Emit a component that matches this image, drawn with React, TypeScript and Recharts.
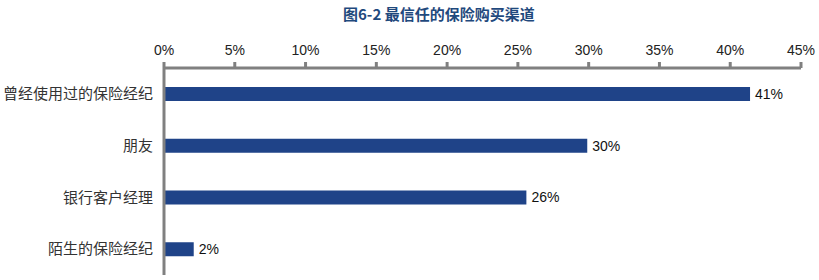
import { BarChart, Bar, XAxis, YAxis, LabelList } from "recharts";

const channels = ["曾经使用过的保险经纪", "朋友", "银行客户经理", "陌生的保险经纪"];
const shares = [41.4, 29.9, 25.6, 2.1];
const pctTicks = [0, 5, 10, 15, 20, 25, 30, 35, 40, 45];

const data = channels.map((name, i) => ({ name, value: shares[i] }));

const latin = "'Liberation Sans', Arial, sans-serif";
const cjk = "'Noto Sans CJK SC', 'Liberation Sans', sans-serif";

const App = () => {
  return (
    <div style={{ position: "absolute", left: 0, top: 0, width: 819, height: 280, background: "#fff" }}>
      <div
        style={{
          position: "absolute",
          left: 343,
          top: 3,
          fontFamily: cjk,
          fontWeight: 700,
          fontSize: 15,
          color: "#1F497D",
          whiteSpace: "nowrap",
        }}
      >
        图6-2 最信任的保险购买渠道
      </div>
      <BarChart
        width={819}
        height={280}
        data={data}
        layout="vertical"
        margin={{ top: 38, right: 18, bottom: 5, left: 0 }}
        barSize={14}
      >
        <XAxis
          type="number"
          orientation="top"
          domain={[0, 45]}
          ticks={pctTicks}
          tickFormatter={(v) => `${v}%`}
          height={30}
          axisLine={{ stroke: "#808080", strokeWidth: 3 }}
          tickLine={{ stroke: "#808080", strokeWidth: 3 }}
          tickSize={6}
          tickMargin={7}
          tick={{ fill: "#222", fontSize: 14, fontFamily: latin }}
          interval={0}
        />
        <YAxis
          type="category"
          dataKey="name"
          width={164}
          axisLine={{ stroke: "#808080", strokeWidth: 3 }}
          tickLine={false}
          tickSize={0}
          tickMargin={11}
          tick={{ fill: "#333", fontSize: 15, fontFamily: cjk }}
          interval={0}
        />
        <Bar dataKey="value" fill="#1F4388" isAnimationActive={false}>
          <LabelList
            dataKey="value"
            position="right"
            offset={5}
            formatter={(v: any) => `${Math.round(Number(v))}%`}
            style={{ fill: "#111", fontSize: 14, fontFamily: latin }}
          />
        </Bar>
      </BarChart>
    </div>
  );
};

export default App;
